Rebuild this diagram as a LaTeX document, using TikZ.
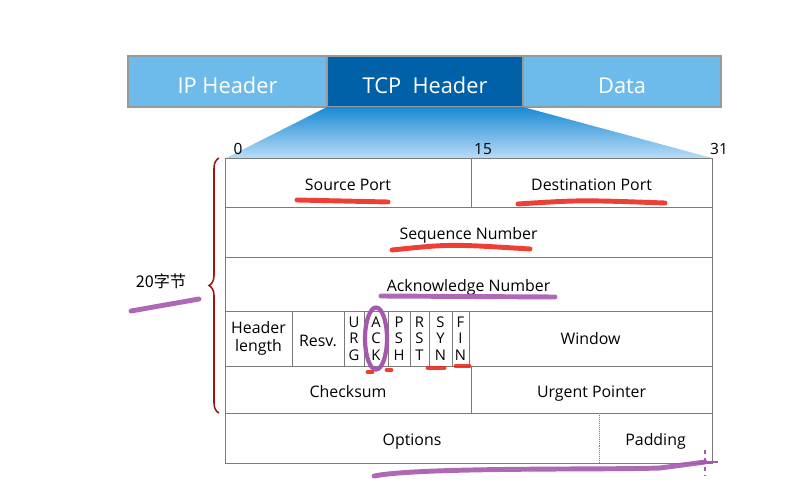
\documentclass[tikz,border=0pt]{standalone}
\usepackage{fontspec}
\setmainfont{Open Sans}
\newfontfamily\cjkfont{Noto Sans CJK SC}
\usepackage{tikz}
\usetikzlibrary{positioning, decorations.pathreplacing}
\definecolor{barblue}{HTML}{6DBBEB}
\definecolor{tcpblue}{HTML}{0061A9}
\definecolor{fanblue}{HTML}{1A8AD4}
\definecolor{fanlight}{HTML}{B8DCF7}
\definecolor{cellgray}{HTML}{7A7A7A}
\definecolor{bracered}{HTML}{A3160F}
\definecolor{penred}{HTML}{EC2A1E}
\definecolor{penpurple}{HTML}{A458AE}

\begin{document}
\begin{tikzpicture}[
    x=0.025cm, y=-0.025cm,
    seg/.style={rectangle, draw=gray!80, line width=1pt, fill=barblue, text=white, font=\fontsize{15.5}{18}\selectfont, text height=1.8em, text depth=0.1em, minimum height=1.275cm, inner sep=0pt, outer sep=0pt},
    cell/.style={rectangle, draw=cellgray, line width=0.6pt, anchor=north west, align=center, font=\fontsize{11.3}{13.2}\selectfont, inner sep=0pt, outer sep=0pt},
    line1/.style={cell, text height=1.25em, text depth=0.15em},
    flag/.style={cell, font=\fontsize{10.5}{11.7}\selectfont},
    bit/.style={font=\fontsize{11}{12}\selectfont, anchor=south},
    pen/.style={line width=3.5pt, line cap=round, opacity=0.9}
]
\useasboundingbox (0,0) rectangle (799,498);
% packet bar
\node[seg, minimum width=4.975cm, anchor=north west] (ip) at (128,56) {IP Header};
\node[seg, minimum width=4.9cm, fill=tcpblue, right=0pt of ip] (tcp) {TCP\ \ Header};
\node[seg, minimum width=4.95cm, right=0pt of tcp] (data) {Data};
% fan out of the tcp header
\coordinate (fanl) at (226,158);
\coordinate (fanr) at (712,158);
\shade[top color=fanblue, bottom color=fanlight] (tcp.south west) -- (tcp.south east) -- (fanr) -- (fanl) -- cycle;
% bit numbers
\node[bit] (b0) at (238,160) {0};
\node[bit] (b15) at (483,160) {15};
\node[bit] (b31) at (719,160) {31};
% header rows
\node[line1, minimum width=6.15cm, minimum height=1.225cm] (srcport) at (225,158) {Source Port};
\node[line1, minimum width=6.025cm, minimum height=1.225cm] (dstport) at (471,158) {Destination Port};
\node[line1, minimum width=12.175cm, minimum height=1.25cm] (seq) at (225,207) {Sequence Number};
\node[line1, minimum width=12.175cm, minimum height=1.35cm] (acknum) at (225,257) {Acknowledge Number};
\node[cell, minimum width=1.675cm, minimum height=1.375cm] (hlen) at (225,311) {Header\\length};
\node[line1, minimum width=1.3cm, minimum height=1.375cm] (resv) at (292,311) {Resv.};
\node[flag, minimum width=0.5cm, minimum height=1.375cm] (urg) at (344,311) {U\\R\\G};
\node[flag, minimum width=0.6cm, minimum height=1.375cm] (ackf) at (364,311) {A\\C\\K};
\node[flag, minimum width=0.55cm, minimum height=1.375cm] (psh) at (388,311) {P\\S\\H};
\node[flag, minimum width=0.475cm, minimum height=1.375cm] (rst) at (410,311) {R\\S\\T};
\node[flag, minimum width=0.575cm, minimum height=1.375cm] (syn) at (429,311) {S\\Y\\N};
\node[flag, minimum width=0.425cm, minimum height=1.375cm] (fin) at (452,311) {F\\I\\N};
\node[cell, minimum width=6.075cm, minimum height=1.375cm] (window) at (469,311) {Window};
\node[line1, minimum width=6.15cm, minimum height=1.175cm] (checksum) at (225,366) {Checksum};
\node[line1, minimum width=6.025cm, minimum height=1.175cm] (urgptr) at (471,366) {Urgent Pointer};
\node[line1, draw=none, minimum width=9.35cm, minimum height=1.25cm] (options) at (225,413) {Options};
\node[line1, draw=none, minimum width=2.825cm, minimum height=1.25cm] (padding) at (599,413) {Padding};
\draw[cellgray, line width=0.6pt] (options.north west) rectangle (padding.south east);
\draw[cellgray, densely dotted] (padding.north west) -- (padding.south west);
% 20 bytes brace
\draw[bracered, line width=1.1pt, decorate, decoration={brace, amplitude=0.25cm}] (219,413) -- (219,158);
\node[font=\cjkfont\fontsize{11.5}{13}\selectfont] (bytes) at (161,281) {20字节};
% pen marks
\draw[pen, penred] (297,200) -- (388,202);
\draw[pen, penred] (518,204) .. controls (580,200) .. (665,203);
\draw[pen, penred] (392,250) .. controls (450,244) .. (530,249);
\draw[pen, penpurple] (381,296) -- (555,297);
\draw[pen, penpurple] (131,311) -- (199,299);
\draw[penpurple, line width=3pt] (ackf.center) ellipse (11 and 31);
\draw[pen, penred] (368,372) -- (372,372);
\draw[pen, penred] (387,370) -- (391,370);
\draw[pen, penred] (428,368) -- (444,368);
\draw[pen, penred] (456,366) -- (469,366);
\draw[pen, penpurple] (374,476) .. controls (420,467) and (600,470) .. (660,468) -- (705,462);
\draw[penpurple, line width=1.5pt, dashed] (705,450) -- (705,476);
\draw[penpurple, line width=1.5pt] (700,462) -- (718,462);
\end{tikzpicture}
\end{document}
